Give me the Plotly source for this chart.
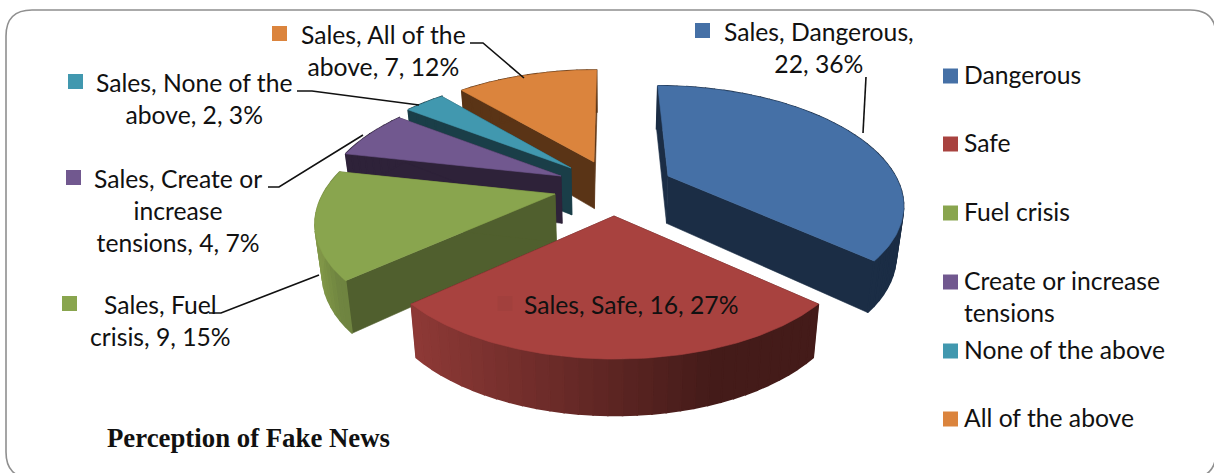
import math
import plotly.graph_objects as go

# ---- data ----
categories = ["Dangerous", "Safe", "Fuel crisis", "Create or increase tensions", "None of the above", "All of the above"]
sales = [22, 16, 9, 4, 2, 7]
percent_labels = ["36%", "27%", "15%", "7%", "3%", "12%"]
series_name = "Sales"
chart_title = "Perception of Fake News"

# ---- colours ----
TOP = ["#4570A6", "#A8423F", "#89A54E", "#71588F", "#4198AF", "#DB843D"]
RADIAL = ["#1B2D45", "#451B19", "#505F2E", "#2E2239", "#1A3E48", "#5A3416"]
RIM_L = ["#1B2D45", "#8E3936", "#819748", "#2E2239", "#1A3E48", "#5A3416"]
RIM_R = ["#1B2D45", "#441B19", "#6F8440", "#2E2239", "#1A3E48", "#5A3416"]

# ---- projection of the exploded 3-D pie (layout only) ----
APEX = [(668, 176), (614, 216), (555, 194), (561, 176), (571, 168), (594, 162)]
R_SCALE = [0.98, 1.015, 1.0, 1.0, 1.0, 1.0]
R, B, K, VX = 232.0, 0.48, 0.21, 609.0
DRAW_ORDER = [5, 4, 3, 0, 2, 1]
FONT = "Lato"
FS = 24.7


def top_pt(i, theta):
    X, Y = math.sin(theta), math.cos(theta)
    s = 1 / (1 + K * Y)
    ax, ay = APEX[i]
    r = R * R_SCALE[i]
    return VX + (ax - VX + r * X) * s, ay - r * B * Y * s


def low(p):
    x, y = p
    return VX + (x - VX) * 0.975, y + 47 + (y - 170) * 0.05


def lerp_hex(a, b, t):
    t = max(0, min(1, t))
    ca = [int(a[j:j + 2], 16) for j in (1, 3, 5)]
    cb = [int(b[j:j + 2], 16) for j in (1, 3, 5)]
    return "rgb(%d,%d,%d)" % tuple(round(u + (v - u) * t) for u, v in zip(ca, cb))


def poly(pts, color, name, lw=0.6):
    return go.Scatter(
        x=[p[0] for p in pts] + [pts[0][0]],
        y=[p[1] for p in pts] + [pts[0][1]],
        mode="lines", fill="toself", fillcolor=color,
        line=dict(width=lw, color=color),
        showlegend=False, name=name, hoverinfo="name",
    )


total = sum(sales)
starts = [0.0]
for v in sales:
    starts.append(starts[-1] + v / total * 2 * math.pi)

fig = go.Figure()
for i in DRAW_ORDER:
    a0, a1 = starts[i], starts[i + 1]
    apex = APEX[i]
    name = f"{categories[i]}: {sales[i]} ({percent_labels[i]})"
    # radial walls
    for a in (a0, a1):
        rim = top_pt(i, a)
        fig.add_trace(poly([apex, rim, low(rim), low(apex)], RADIAL[i], name))
    # outer wall, as shaded bands
    n = max(3, int((a1 - a0) / 0.05))
    xs = [top_pt(i, a0 + (a1 - a0) * j / n)[0] for j in range(n + 1)]
    xmin, xmax = min(xs), max(xs)
    for j in range(n):
        p = top_pt(i, a0 + (a1 - a0) * j / n)
        q = top_pt(i, a0 + (a1 - a0) * (j + 1) / n)
        t = ((p[0] + q[0]) / 2 - xmin) / (xmax - xmin)
        fig.add_trace(poly([p, q, low(q), low(p)], lerp_hex(RIM_L[i], RIM_R[i], t * 1.35), name, lw=1.6))
    # top face
    m = max(6, int((a1 - a0) / 0.02))
    face = [apex] + [top_pt(i, a0 + (a1 - a0) * j / m) for j in range(m + 1)]
    fig.add_trace(poly(face, TOP[i], name))

# ---- data label texts ----
data_label_lines = {
    0: f"{series_name}, Dangerous,<br>{sales[0]}, {percent_labels[0]}",
    1: f"{series_name}, Safe, {sales[1]}, {percent_labels[1]}",
    2: f"{series_name}, Fuel<br>crisis, {sales[2]}, {percent_labels[2]}",
    3: f"{series_name}, Create or<br>increase<br>tensions, {sales[3]}, {percent_labels[3]}",
    4: f"{series_name}, None of the<br>above, {sales[4]}, {percent_labels[4]}",
    5: f"{series_name}, All of the<br>above, {sales[5]}, {percent_labels[5]}",
}
LABEL_POS = {0: (819, 47), 1: (631, 304), 2: (160, 320), 3: (178, 210), 4: (194, 98), 5: (383, 50)}
KEY_POS = {0: (702.5, 30.5), 1: (505, 303.5), 2: (69.5, 303.5), 3: (73.5, 177.5), 4: (75.5, 81.5), 5: (279.5, 33.5)}
LEGEND_Y = [76, 144, 213, 282, 351, 419]
LEGEND_TEXT = ["Dangerous", "Safe", "Fuel crisis", "Create or increase<br>tensions", "None of the above", "All of the above"]

annotations = []
for i in range(6):
    x, y = LABEL_POS[i]
    annotations.append(dict(x=x, y=y, text=data_label_lines[i], showarrow=False, xanchor="center", yanchor="middle",
                            align="center", font=dict(family=FONT, size=FS, color="#111111")))
    # keys of data labels
    fig.add_trace(go.Scatter(x=[KEY_POS[i][0]], y=[KEY_POS[i][1]], mode="markers", hoverinfo="skip", showlegend=False,
                             marker=dict(symbol="square", size=15, color=TOP[i] if i != 1 else "#A2403D", line=dict(width=0))))
    # legend keys and text
    fig.add_trace(go.Scatter(x=[950.5], y=[LEGEND_Y[i]], mode="markers", hoverinfo="skip", showlegend=False,
                             marker=dict(symbol="square", size=15, color=TOP[i], line=dict(width=0))))
    two_line = "<br>" in LEGEND_TEXT[i]
    annotations.append(dict(x=961.5, y=LEGEND_Y[i] - 2 + (16 if two_line else 0), text=LEGEND_TEXT[i], showarrow=False,
                            xanchor="left", yanchor="middle", align="left",
                            font=dict(family=FONT, size=FS, color="#111111")))

annotations.append(dict(x=105, y=438, text=f"<b>{chart_title}</b>", showarrow=False, xanchor="left", yanchor="middle",
                        font=dict(family="Liberation Serif", size=26.8, color="#111111")))

# ---- leader lines and frame ----
LEADERS = [
    "M866,77 L863,133",
    "M470,43 L483,43 L524,78",
    "M297,91 L312,91 L419,105",
    "M268,187 L279,187 L363,135",
    "M209,313 L221,313 L319,275",
]
shapes = [dict(type="path", path=p, xref="x", yref="y", line=dict(color="#111111", width=1.6), layer="above") for p in LEADERS]
shapes.append(dict(type="path", xref="x", yref="y", layer="below", line=dict(color="#8F8F8F", width=1.6),
                   path="M6,36 Q6,10 32,10 L1190,10 Q1216,10 1216,36 L1216,452 Q1216,478 1190,478 L32,478 Q6,478 6,452 Z"))

fig.update_layout(
    autosize=True,
    margin=dict(l=0, r=0, t=0, b=0),
    paper_bgcolor="white", plot_bgcolor="white",
    showlegend=False,
    xaxis=dict(range=[0, 1214], visible=False, fixedrange=True),
    yaxis=dict(range=[473, 0], visible=False, fixedrange=True),
    annotations=annotations, shapes=shapes,
)
fig.write_html("out.html", config=dict(displayModeBar=False), default_width="1214px", default_height="473px",
               post_script="document.body.style.margin='0';document.body.style.overflow='hidden';window.dispatchEvent(new Event('resize'));")
